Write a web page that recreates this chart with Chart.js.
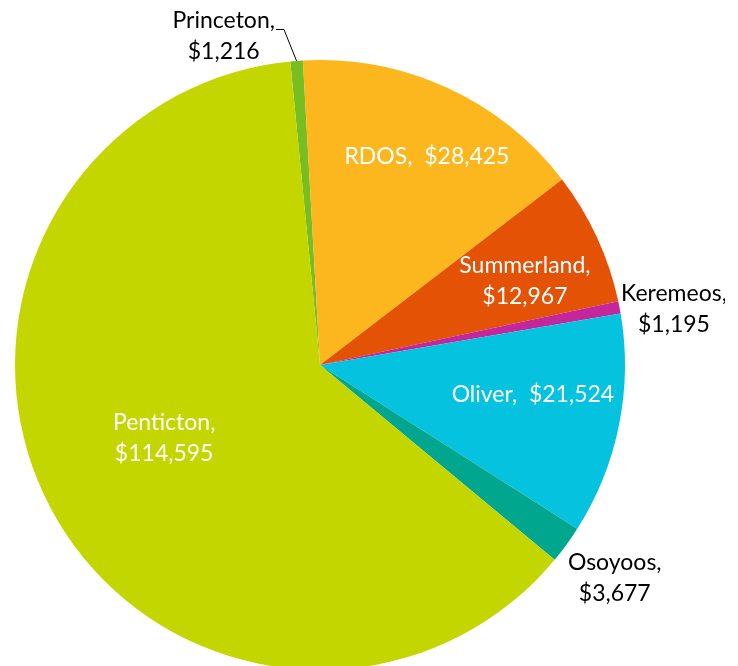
<!DOCTYPE html>
<html>
<head>
<meta charset="utf-8">
<script src="https://cdn.jsdelivr.net/npm/chart.js@4.4.1/dist/chart.umd.min.js"></script>
<style>
  html, body { margin: 0; padding: 0; background: #ffffff; overflow: hidden; width: 738px; height: 666px; }
  #wrap { position: relative; width: 738px; height: 740px; }
</style>
</head>
<body>
<div id="wrap"><canvas id="c" width="738" height="740"></canvas></div>
<script>
// ---- data ----
const categories = ["Princeton", "RDOS", "Summerland", "Keremeos", "Oliver", "Osoyoos", "Penticton"];
const values = [1216, 28425, 12967, 1195, 21524, 3677, 114595];
const colors = ["#78BE20", "#FDB71E", "#E35205", "#C4279C", "#05C3DE", "#00A78E", "#C4D600"];

// ---- label placement (relative to each arc: fraction of outer radius, angle offset from mid angle in degrees) ----
const labelRadius = [1.124, 0.767, 0.726, 1.175, 0.705, 1.193, 0.564];
const labelAngleShift = [-11.9, 2.55, 2.5, 1.9, -3.4, -0.2, 2.9];
const labelInside = [false, true, true, false, true, false, true];
const labelOneLine = [false, true, false, false, true, false, false];
const leaderLine = [true, false, false, false, false, false, false];

const FONT = '23px Lato, "Open Sans", sans-serif';
const LINE_H = 31;

function fmt(v) { return "$" + v.toLocaleString("en-US"); }

const labelPlugin = {
  id: "pieLabels",
  afterDatasetsDraw(chart) {
    const ctx = chart.ctx;
    const meta = chart.getDatasetMeta(0);
    ctx.save();
    ctx.beginPath();
    ctx.rect(0, 0, 725, chart.height);
    ctx.clip();
    ctx.font = FONT;
    ctx.textAlign = "center";
    ctx.textBaseline = "middle";
    meta.data.forEach((arc, i) => {
      const p = arc.getProps(["x", "y", "startAngle", "endAngle", "outerRadius"], true);
      const mid = (p.startAngle + p.endAngle) / 2;
      const a = mid + labelAngleShift[i] * Math.PI / 180;
      const r = p.outerRadius * labelRadius[i];
      const cx = p.x + Math.cos(a) * r;
      const cy = p.y + Math.sin(a) * r;
      ctx.fillStyle = labelInside[i] ? "#ffffff" : "#000000";
      let lines;
      if (labelOneLine[i]) lines = [categories[i] + ",  " + fmt(values[i])];
      else lines = [categories[i] + ",", fmt(values[i])];
      const y0 = cy - (lines.length - 1) * LINE_H / 2;
      lines.forEach((t, k) => ctx.fillText(t, cx, y0 + k * LINE_H));
      if (leaderLine[i]) {
        const w = ctx.measureText(lines[0]).width;
        const sx = cx + w / 2 + 1;
        const sy = y0 + 9;
        const ex = p.x + Math.cos(mid) * p.outerRadius;
        const ey = p.y + Math.sin(mid) * p.outerRadius;
        ctx.strokeStyle = "#000000";
        ctx.lineWidth = 1;
        ctx.beginPath();
        ctx.moveTo(sx, sy);
        ctx.lineTo(sx + 8, sy);
        ctx.lineTo(ex, ey);
        ctx.stroke();
      }
    });
    ctx.restore();
  }
};

new Chart(document.getElementById("c"), {
  type: "pie",
  data: {
    labels: categories,
    datasets: [{
      data: values,
      backgroundColor: colors,
      borderWidth: 0,
      hoverOffset: 0
    }]
  },
  options: {
    responsive: false,
    devicePixelRatio: 1,
    animation: false,
    rotation: -5.6,
    events: [],
    layout: { padding: { top: 60, bottom: 70, left: 15, right: 113 } },
    plugins: {
      legend: { display: false },
      tooltip: { enabled: false }
    }
  },
  plugins: [labelPlugin]
});
</script>
</body>
</html>
